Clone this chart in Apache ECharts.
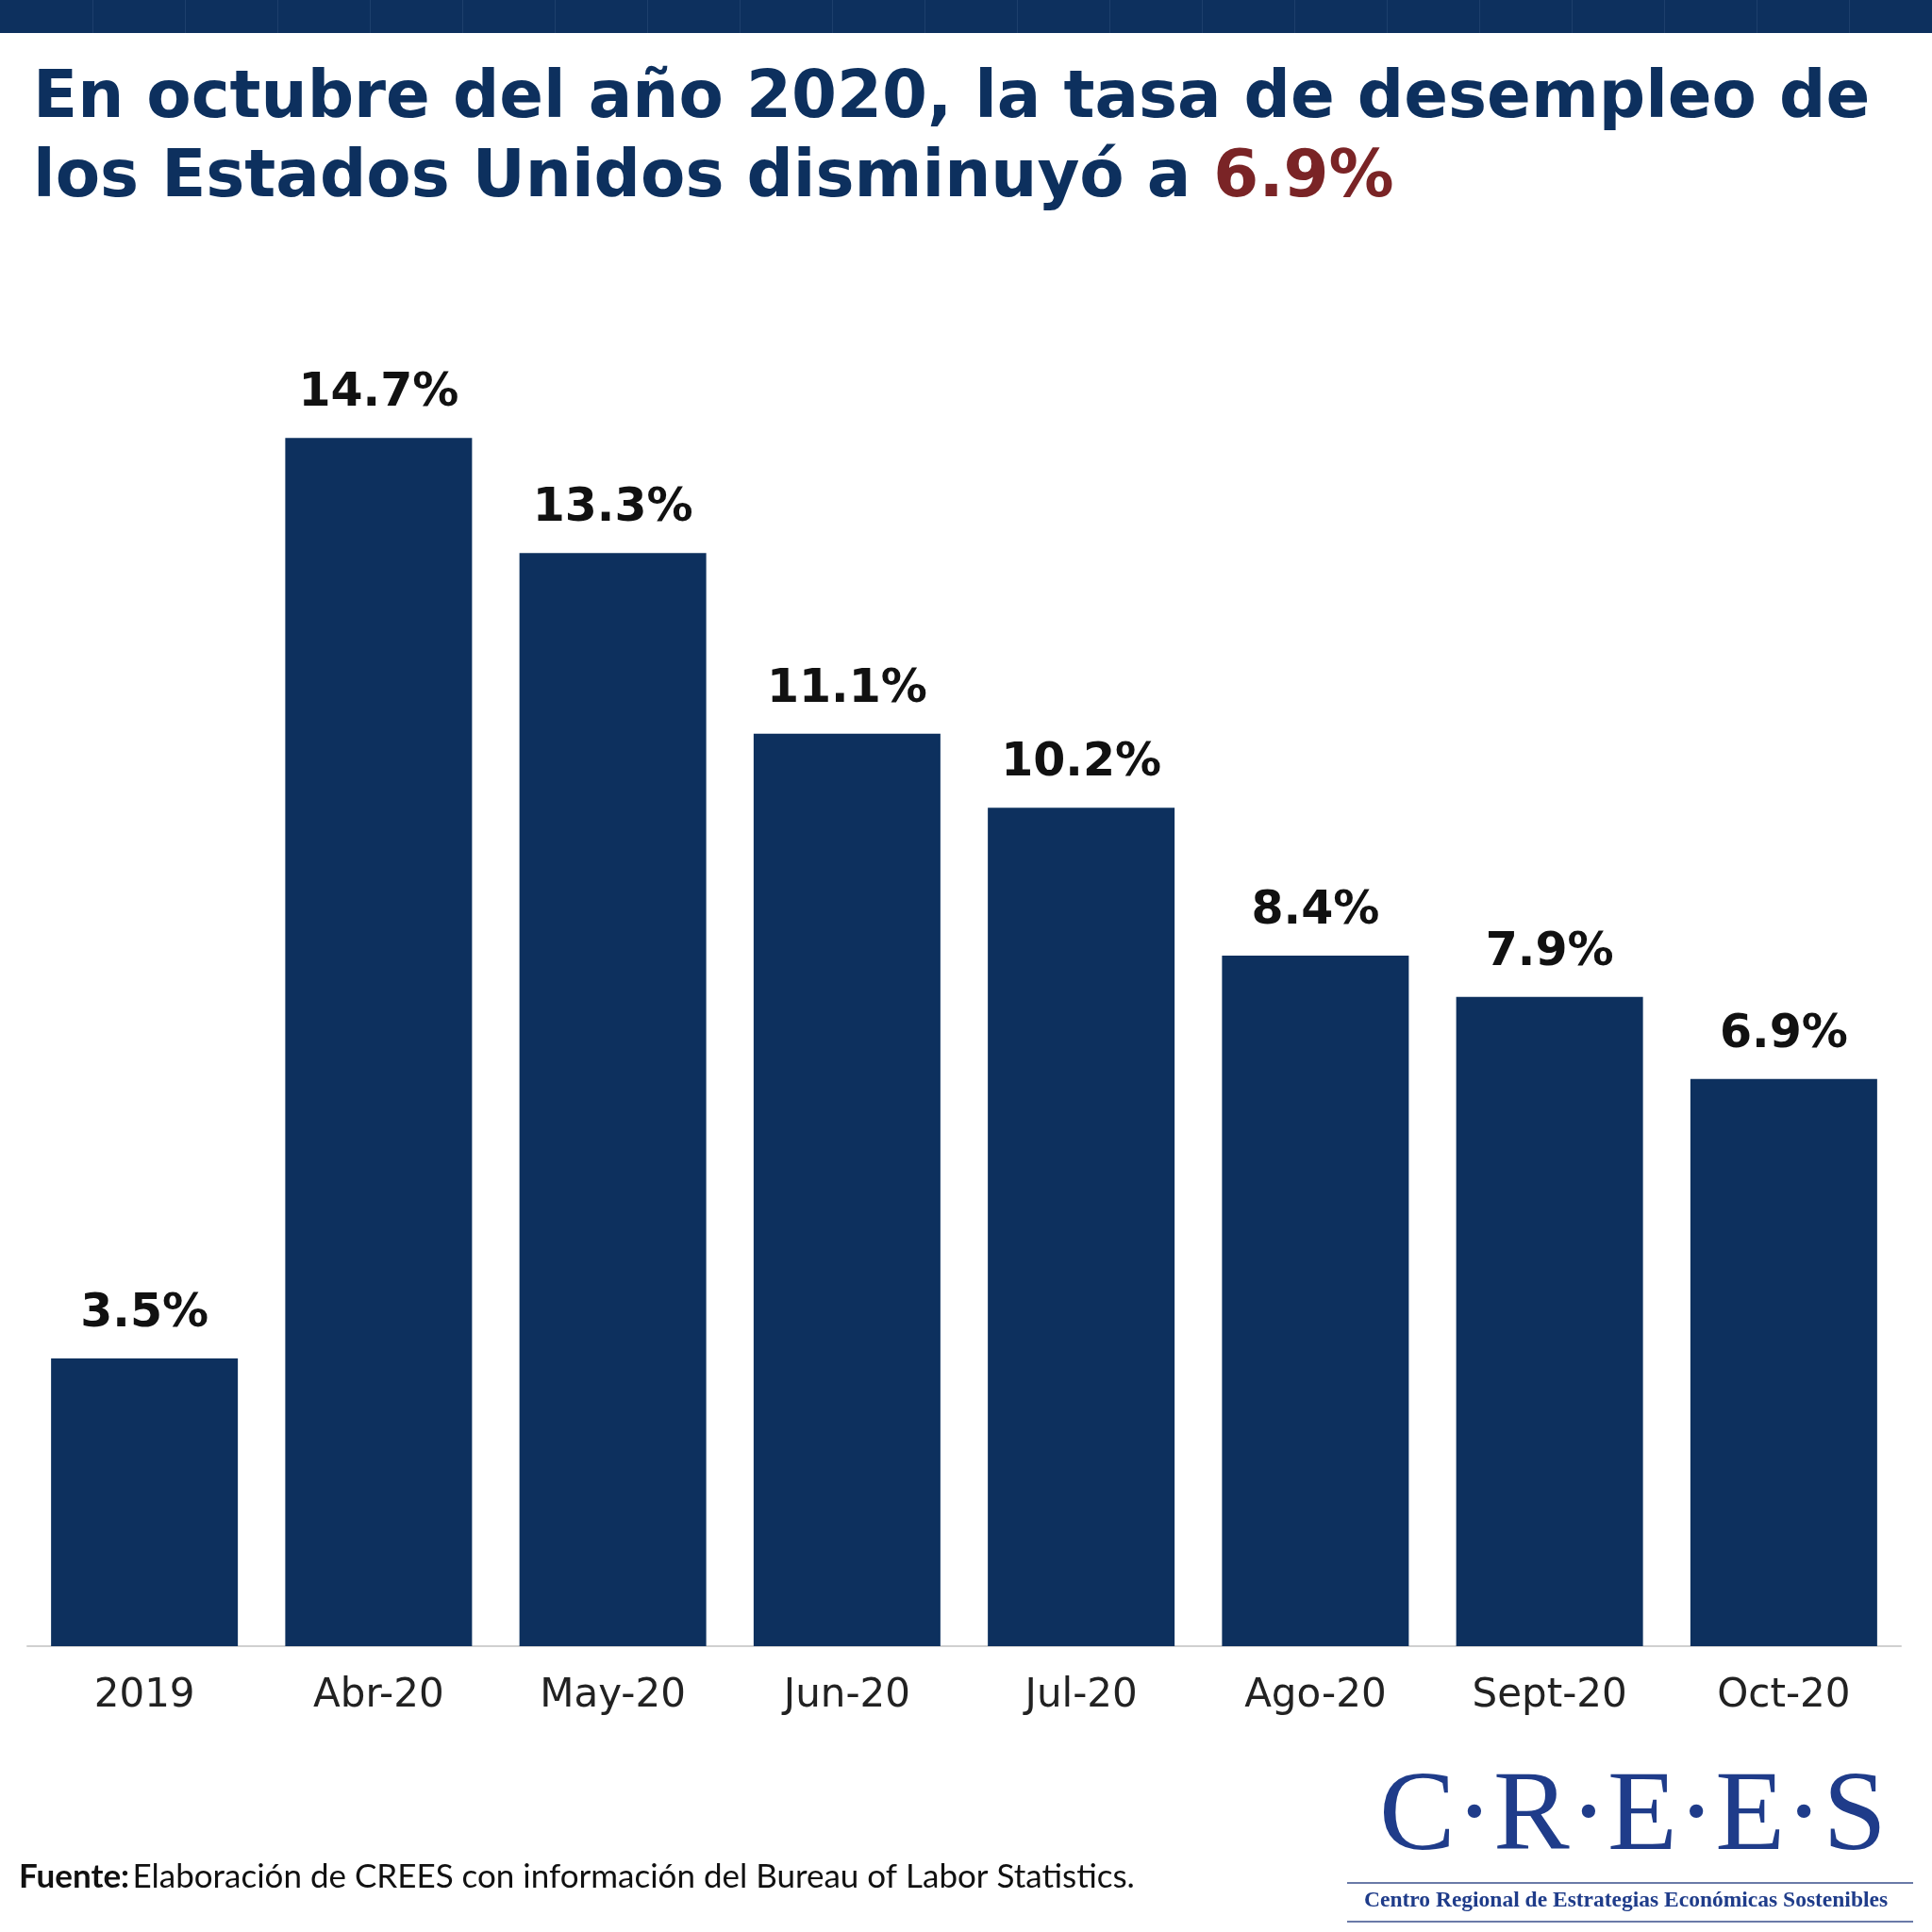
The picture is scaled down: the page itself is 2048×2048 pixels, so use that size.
<!DOCTYPE html>
<html><head><meta charset="utf-8">
<script src="https://cdn.jsdelivr.net/npm/echarts@6/dist/echarts.min.js"></script>
<style>html,body{margin:0;padding:0;background:#fff}#c{width:2048px;height:2048px}</style>
</head><body><div id="c"></div>
<script>
const categories = ['2019','Abr-20','May-20','Jun-20','Jul-20','Ago-20','Sept-20','Oct-20'];
const values = [3.5,14.7,13.3,11.1,10.2,8.4,7.9,6.9];
const navy = '#0d305e';
const chart = echarts.init(document.getElementById('c'));
const topSegs = [];
for (let i = 1; i < 21; i++) topSegs.push({type:'rect',shape:{x:i*98,y:0,width:1,height:35},style:{fill:'#1d3f6c'}});
chart.setOption({
  backgroundColor:'#fff',
  animation:false,
  grid:{left:29,right:33,top:438,bottom:303,containLabel:false},
  xAxis:{type:'category',data:categories,
    axisLine:{lineStyle:{color:'#d0d0d0',width:2}},axisTick:{show:false},
    axisLabel:{margin:32,fontSize:42,color:'#222',fontFamily:'DejaVu Sans'}},
  yAxis:{type:'value',min:0,max:15,show:false,splitLine:{show:false}},
  series:[{type:'bar',data:values,barWidth:198,itemStyle:{color:navy},
    label:{show:true,position:'top',distance:22,formatter:p=>p.value.toFixed(1)+'%',
      fontSize:49,fontWeight:'bold',color:'#111',fontFamily:'DejaVu Sans'}}],
  graphic:[
    {type:'rect',shape:{x:0,y:0,width:2048,height:35},style:{fill:navy}},
    ...topSegs,
    {type:'text',left:35,top:72,style:{text:'En octubre del año 2020, la tasa de desempleo de',fontSize:69,fontWeight:'bold',fill:navy,fontFamily:'DejaVu Sans'}},
    {type:'text',left:35,top:156,style:{text:'{a|los Estados Unidos disminuyó a }{b|6.9%}',
      rich:{a:{fontSize:69,fontWeight:'bold',fill:navy,fontFamily:'DejaVu Sans'},b:{fontSize:69,fontWeight:'bold',fill:'#7a2426',fontFamily:'DejaVu Sans'}}}},
    {type:'text',left:20,top:1972,style:{text:'{a|Fuente:} {b|Elaboración de CREES con información del Bureau of Labor Statistics.}',
      rich:{a:{fontSize:35,fontWeight:'bold',fill:'#111',fontFamily:'Lato'},b:{fontSize:35,fill:'#111',fontFamily:'Lato'}}}},
    {type:'text',left:1462,top:1868,style:{text:'C·R·E·E·S',fontSize:121,fill:'#1f3c8a',fontFamily:'Liberation Serif'}},
    {type:'rect',shape:{x:1428,y:1995,width:600,height:2},style:{fill:'#6a7aa8'}},
    {type:'text',left:1446,top:2003,style:{text:'Centro Regional de Estrategias Económicas Sostenibles',fontSize:23.5,fontWeight:'bold',fill:'#1f3c8a',fontFamily:'Liberation Serif'}},
    {type:'rect',shape:{x:1428,y:2036,width:600,height:2},style:{fill:'#6a7aa8'}}
  ]
});
</script></body></html>
